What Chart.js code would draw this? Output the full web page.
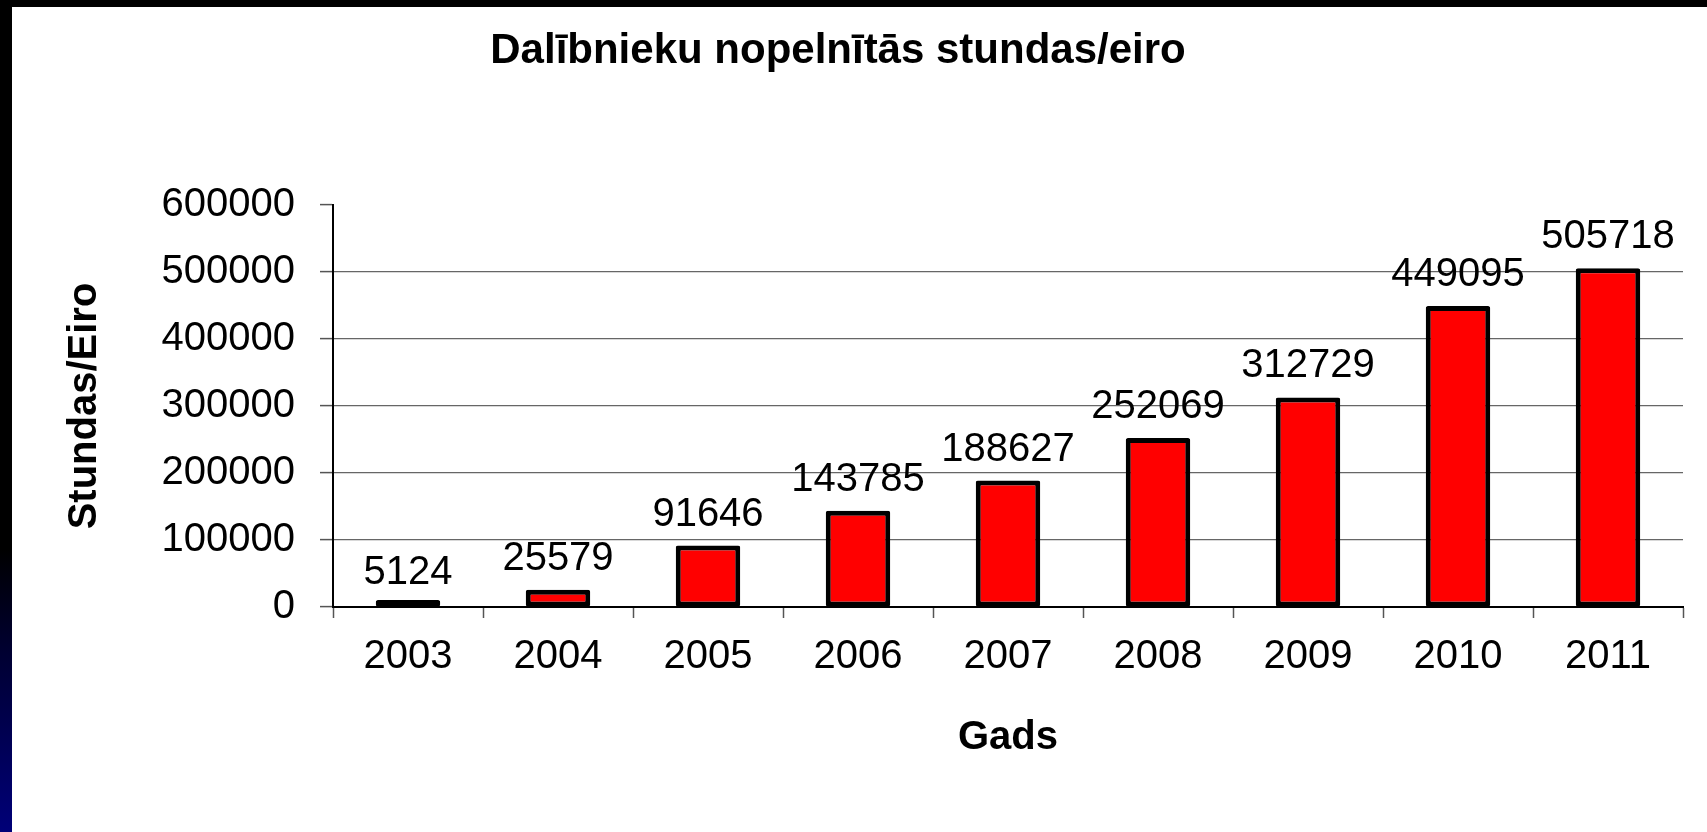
<!DOCTYPE html>
<html>
<head>
<meta charset="utf-8">
<script src="https://cdn.jsdelivr.net/npm/chart.js@4.4.1/dist/chart.umd.min.js"></script>
<style>
  html, body { margin: 0; padding: 0; background: #fff; }
  #wrap { position: relative; width: 1707px; height: 832px; overflow: hidden; background: #fff; }
  #c { position: absolute; left: 0; top: 0; }
  #topbar { position: absolute; left: 0; top: 0; width: 1707px; height: 7px; background: #000; z-index: 2; }
  #stripe { position: absolute; left: 0; top: 0; width: 12px; height: 832px; z-index: 2;
    background: linear-gradient(to bottom, #000 0%, #000 66%, #000030 78%, #000078 100%); }
</style>
</head>
<body>
<div id="wrap">
  <canvas id="c" width="1707" height="832"></canvas>
  <div id="topbar"></div>
  <div id="stripe"></div>
</div>
<script>
const chartTitle = 'Dalībnieku nopelnītās stundas/eiro';
const xAxisTitle = 'Gads';
const yAxisTitle = 'Stundas/Eiro';
const categories = ['2003', '2004', '2005', '2006', '2007', '2008', '2009', '2010', '2011'];
const values = [5124, 25579, 91646, 143785, 188627, 252069, 312729, 449095, 505718];
const yTickLabels = ['0', '100000', '200000', '300000', '400000', '500000', '600000'];

const FONT = "'Liberation Sans', Arial, sans-serif";
Chart.defaults.color = '#000';
Chart.defaults.font.family = FONT;

const titlePlugin = {
  id: 'mainTitle',
  afterDraw(chart) {
    const ctx = chart.ctx;
    ctx.save();
    ctx.font = 'bold 42px ' + FONT;
    ctx.fillStyle = '#000';
    ctx.textAlign = 'center';
    ctx.textBaseline = 'alphabetic';
    ctx.fillText(chartTitle, 838, 63);
    ctx.restore();
  }
};

const valueLabels = {
  id: 'valueLabels',
  afterDatasetsDraw(chart) {
    const ctx = chart.ctx;
    const meta = chart.getDatasetMeta(0);
    const ys = chart.scales.y;
    ctx.save();
    ctx.font = '40px ' + FONT;
    ctx.fillStyle = '#000';
    ctx.textAlign = 'center';
    ctx.textBaseline = 'alphabetic';
    meta.data.forEach((bar, i) => {
      const v = chart.data.datasets[0].data[i];
      ctx.fillText(String(v), bar.x, ys.getPixelForValue(v) - 20);
    });
    ctx.restore();
  }
};

new Chart(document.getElementById('c'), {
  type: 'bar',
  data: {
    labels: categories,
    datasets: [{
      data: values,
      backgroundColor: '#FF0000',
      borderColor: '#000',
      borderWidth: 5,
      borderRadius: 2,
      borderSkipped: false,
      minBarLength: 7,
      categoryPercentage: 1,
      barPercentage: 0.43
    }]
  },
  options: {
    responsive: false,
    animation: false,
    devicePixelRatio: 1,
    layout: { padding: { left: 0, top: 205, right: 24, bottom: 0 } },
    plugins: {
      legend: { display: false },
      title: { display: false },
      tooltip: { enabled: false }
    },
    scales: {
      x: {
        offset: true,
        grid: {
          display: true,
          offset: true,
          drawOnChartArea: false,
          drawTicks: true,
          tickLength: 11,
          tickColor: '#555',
          tickWidth: 1.5
        },
        border: { display: true, color: '#000', width: 2 },
        ticks: { font: { size: 40, family: FONT }, color: '#000', padding: 15, maxRotation: 0, autoSkip: false },
        title: {
          display: true,
          text: xAxisTitle,
          color: '#000',
          font: { size: 40, weight: 'bold', family: FONT },
          padding: { top: 0, bottom: 70 }
        },
        afterFit(scale) { scale.height = 225; }
      },
      y: {
        min: 0,
        max: 600000,
        ticks: {
          stepSize: 100000,
          font: { size: 40, family: FONT },
          color: '#000',
          padding: 25,
          callback: (value, index) => yTickLabels[index]
        },
        grid: {
          color: (ctx) => (ctx.tick && ctx.tick.value === 600000) ? 'rgba(0,0,0,0)' : '#666',
          lineWidth: 1.2,
          tickLength: 13,
          tickColor: '#555',
          tickWidth: 1.5
        },
        border: { display: true, color: '#000', width: 2 },
        title: {
          display: true,
          text: yAxisTitle,
          color: '#000',
          font: { size: 40, weight: 'bold', family: FONT },
          padding: { top: 61, bottom: 0 }
        },
        afterFit(scale) { scale.width = 333; }
      }
    }
  },
  plugins: [titlePlugin, valueLabels]
});
</script>
</body>
</html>
